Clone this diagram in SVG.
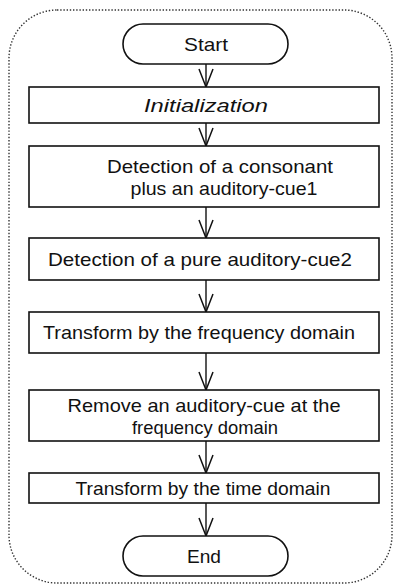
<svg xmlns="http://www.w3.org/2000/svg" width="394" height="586" viewBox="0 0 394 586">
<style>
.frame{fill:none;stroke:#333;stroke-width:1.4;stroke-dasharray:1.4 1.8}
.box{fill:#fff;stroke:#111;stroke-width:1.6}
.lbl{font-family:"Liberation Sans","DejaVu Sans",sans-serif;font-size:18.5px;fill:#111;text-anchor:middle;dominant-baseline:central}
.conn line{stroke:#111;stroke-width:1.4;marker-end:url(#arr)}
</style>
<defs>
<marker id="arr" markerUnits="userSpaceOnUse" orient="auto" viewBox="-20 -9 22 18" markerWidth="22" markerHeight="18" refX="0" refY="0">
<path d="M-18,-7 L0,0 L-18,7" fill="none" stroke="#111" stroke-width="1.5"/>
</marker>
</defs>
<rect width="394" height="586" fill="#fff"/>
<rect class="frame" x="9" y="10" width="383" height="573" rx="48" ry="48"/>
<g class="conn">
<line x1="206" y1="64" x2="206" y2="87"/>
<line x1="206" y1="123" x2="206" y2="146"/>
<line x1="206" y1="207" x2="206" y2="238"/>
<line x1="206" y1="280" x2="206" y2="312"/>
<line x1="206" y1="353" x2="206" y2="390"/>
<line x1="206" y1="441" x2="206" y2="473"/>
<line x1="206" y1="503" x2="206" y2="536"/>
</g>
<g id="start"><rect class="box" x="123" y="24" width="165" height="40" rx="20" ry="20"/><text class="lbl" x="206" y="44" textLength="44" lengthAdjust="spacingAndGlyphs">Start</text></g>
<g id="init"><rect class="box" x="29" y="87" width="350" height="36"/><text class="lbl" x="206" y="105" font-style="italic" textLength="124" lengthAdjust="spacingAndGlyphs">Initialization</text></g>
<g id="detect1"><rect class="box" x="29" y="146" width="350" height="61"/><text class="lbl" x="220" y="166" textLength="226" lengthAdjust="spacingAndGlyphs">Detection of a consonant</text><text class="lbl" x="224" y="188" textLength="187" lengthAdjust="spacingAndGlyphs">plus an auditory-cue1</text></g>
<g id="detect2"><rect class="box" x="29" y="238" width="350" height="42"/><text class="lbl" x="200" y="259" textLength="304" lengthAdjust="spacingAndGlyphs">Detection of a pure auditory-cue2</text></g>
<g id="freq"><rect class="box" x="29" y="312" width="350" height="41"/><text class="lbl" x="199" y="332.5" textLength="312" lengthAdjust="spacingAndGlyphs">Transform by the frequency domain</text></g>
<g id="remove"><rect class="box" x="29" y="390" width="350" height="51"/><text class="lbl" x="204" y="405" textLength="273" lengthAdjust="spacingAndGlyphs">Remove an auditory-cue at the</text><text class="lbl" x="205" y="427" textLength="146" lengthAdjust="spacingAndGlyphs">frequency domain</text></g>
<g id="time"><rect class="box" x="29" y="473" width="350" height="30"/><text class="lbl" x="203" y="488" textLength="255" lengthAdjust="spacingAndGlyphs">Transform by the time domain</text></g>
<g id="end"><rect class="box" x="123" y="536" width="165" height="40" rx="20" ry="20"/><text class="lbl" x="204" y="556" textLength="34" lengthAdjust="spacingAndGlyphs">End</text></g>
</svg>
